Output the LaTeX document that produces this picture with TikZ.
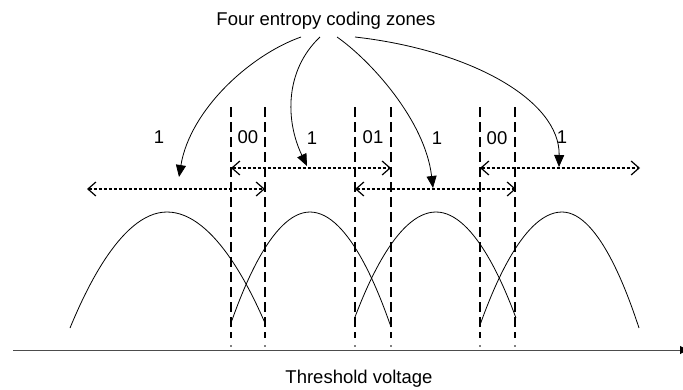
\documentclass[tikz,border=0pt]{standalone}
\usepackage{fontspec}
\setmainfont{Liberation Sans}
\usetikzlibrary{arrows.meta, calc}

\begin{document}
\begin{tikzpicture}[
  x=1pt, y=-1pt,
  lbl/.style={font=\fontsize{18.5}{22}\selectfont, inner sep=0pt,
              anchor=base},
  bell/.style={line width=0.8pt},
  cut/.style={line width=1.2pt, dash pattern=on 10pt off 5pt},
  span/.style={line width=1.2pt, dash pattern=on 3pt off 2pt,
               {Straight Barb[length=8pt,width=14pt]}-{Straight Barb[length=8pt,width=14pt]}},
  pick/.style={line width=0.8pt, -{Triangle[length=12pt,width=10pt]}}
]
\useasboundingbox (0,0) rectangle (683,389);

% labels
\node[lbl] (title) at (326,25) {Four entropy coding zones};
\node[lbl] (axislabel) at (359,383) {Threshold voltage};
\node[lbl] (code1) at (159,143) {1};
\node[lbl] (code2) at (248,143) {00};
\node[lbl] (code3) at (312,144) {1};
\node[lbl] (code4) at (373,143) {01};
\node[lbl] (code5) at (437,144) {1};
\node[lbl] (code6) at (497,144) {00};
\node[lbl] (code7) at (562,143) {1};

% ends of the pointers
\coordinate (s1) at (301,37);
\coordinate (s2) at (320,37);
\coordinate (s3) at (337,37);
\coordinate (s4) at (355,37);
\coordinate (t1) at (179,177);
\coordinate (t2) at (307,166);
\coordinate (t3) at (433,188);
\coordinate (t4) at (559,167);

% zone spans
\coordinate (u1) at (231,168);  \coordinate (u2) at (391,168);
\coordinate (u3) at (480,168);  \coordinate (u4) at (640,168);
\coordinate (l1) at (87,189);   \coordinate (l2) at (265,189);
\coordinate (l3) at (355,189);  \coordinate (l4) at (516,189);

% axis
\coordinate (axisL) at (13,350);
\coordinate (axisR) at (688,350);

% threshold cuts
\draw[cut] (231,107) -- (231,338);
\draw[cut] (265,107) -- (265,338);
\draw[cut] (355,107) -- (355,338);
\draw[cut] (391,107) -- (391,338);
\draw[cut] (480,107) -- (480,338);
\draw[cut] (515,107) -- (515,338);
\fill (231,346) circle[radius=0.8pt] (265,346) circle[radius=0.8pt]
      (355,346) circle[radius=0.8pt] (391,346) circle[radius=0.8pt]
      (480,346) circle[radius=0.8pt] (515,346) circle[radius=0.8pt];

% distributions
\draw[bell] (70,328) parabola bend (167,212) (265,323);
\draw[bell] (231,323) parabola bend (310,212) (391,327);
\draw[bell] (355,317) parabola bend (436,212) (516,318);
\draw[bell] (480,325) parabola bend (562,212) (639,328);

\draw[span] (u1) -- (u2);
\draw[span] (u3) -- (u4);
\draw[span] (l1) -- (l2);
\draw[span] (l3) -- (l4);

\draw[pick] (s1) .. controls (250,55) and (190,110) .. (t1);
\draw[pick] (s2) .. controls (285,70) and (285,120) .. (t2);
\draw[pick] (s3) .. controls (370,60) and (425,120) .. (t3);
\draw[pick] (s4) .. controls (470,50) and (560,100) .. (t4);

\draw[line width=1pt, black!70,
      -{Triangle[length=8pt,width=8pt,color=black]}] (axisL) -- (axisR);
\end{tikzpicture}
\end{document}
